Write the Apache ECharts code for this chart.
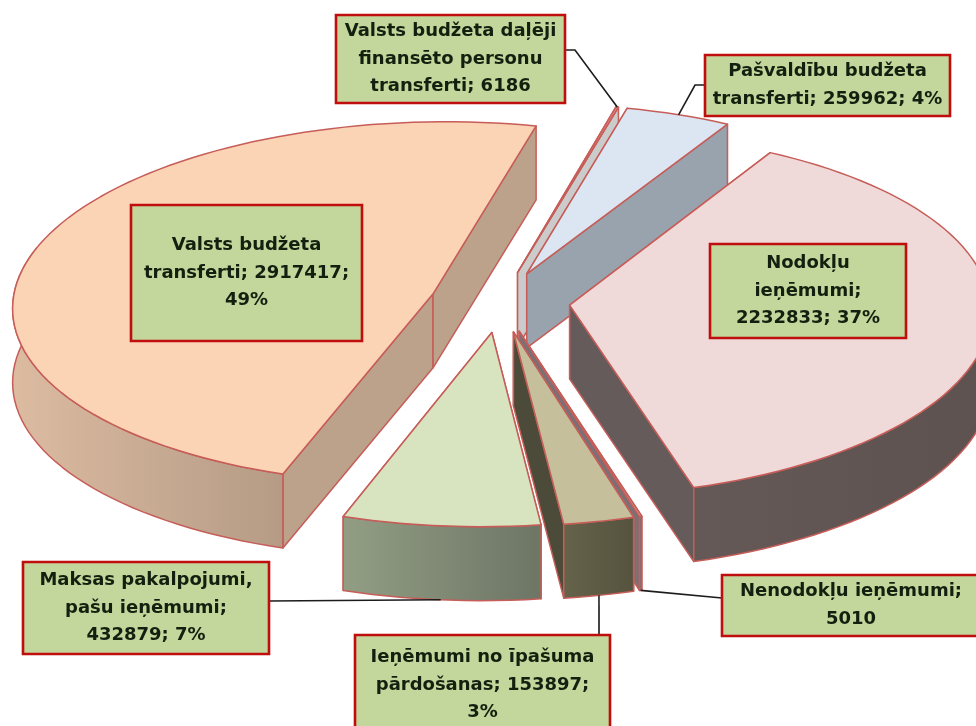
<!DOCTYPE html>
<html>
<head>
<meta charset="utf-8">
<style>
  html, body { margin: 0; padding: 0; background: #fff; }
  #chart { width: 976px; height: 726px; }
</style>
<script src="https://cdn.jsdelivr.net/npm/echarts@6/dist/echarts.min.js"></script>
</head>
<body>
<div id="chart"></div>
<script>
// clockwise from the first slice, as the spreadsheet had them
const categories = ['Nodokļu ieņēmumi', 'Nenodokļu ieņēmumi', 'Ieņēmumi no īpašuma pārdošanas', 'Maksas pakalpojumi, pašu ieņēmumi', 'Valsts budžeta transferti', 'Valsts budžeta daļēji finansēto personu transferti', 'Pašvaldību budžeta transferti'];
const values = [2232833, 5010, 153897, 432879, 2917417, 6186, 259962];
const labelTexts = [
  'Nodokļu\nieņēmumi;\n2232833; 37%',
  'Nenodokļu ieņēmumi;\n5010',
  'Ieņēmumi no īpašuma\npārdošanas; 153897;\n3%',
  'Maksas pakalpojumi,\npašu ieņēmumi;\n432879; 7%',
  'Valsts budžeta\ntransferti; 2917417;\n49%',
  'Valsts budžeta daļēji\nfinansēto personu\ntransferti; 6186',
  'Pašvaldību budžeta\ntransferti; 259962; 4%'
];

// colours per slice: top face, cut walls, outer wall left -> right
const topColors = ['#F0DAD9', '#E6B9B8', '#C6BF9B', '#D8E3BF', '#FBD3B5', '#E08A85', '#DCE6F2'];
const cutColors = ['#665B5B', '#7C7074', '#4C4B39', '#55563F', '#BCA28B', '#CBCBCB', '#98A3AE'];
const outerColors = [['#655958', '#5E5250'], ['#7C7074', '#7C7074'], ['#66634B', '#55523E'], ['#929E84', '#6D7565'], ['#DCBBA1', '#B59B85'], ['#CBCBCB', '#CBCBCB'], ['#98A3AE', '#98A3AE']];
const edgeColor = '#C65D58';

// label boxes [x, y, w, h]
const labelBoxes = [
  [710, 244, 196, 94],
  [722, 575, 258, 61],
  [355, 635, 255, 100],
  [23, 562, 246, 92],
  [131, 205, 231, 136],
  [336, 15, 229, 88],
  [705, 55, 245, 61]
];
// leader start on the box and elbow; null = no leader line
const leaders = [
  null,
  [[722, 598]],
  [[599, 635]],
  [[269, 601]],
  null,
  [[565, 50], [575, 50]],
  [[705, 85], [695, 85]]
];

// pie projection
const startAngle = 29, explode = 0.167, depth = 74;
const cx = 500, cy = 302, rx = 420, ry = 182, persp = 0.05, pan = 10;

const total = values.reduce((a, b) => a + b, 0);
let acc = startAngle;
const slices = values.map(function (v) {
  const from = acc;
  acc += 360 * v / total;
  const mid = (from + acc) / 2 * Math.PI / 180;
  return { from: from, to: acc, ox: explode * Math.sin(mid), oy: -explode * Math.cos(mid) };
});

function project(s, r, deg, z) {
  const a = deg * Math.PI / 180;
  const X = s.ox + r * Math.sin(a);
  const Y = s.oy - r * Math.cos(a);
  const k = 1 + persp * Y;
  return [cx - pan * Y + rx * X * k, cy + ry * Y * k + z];
}

function rimPoints(s, from, to, z) {
  const n = Math.max(1, Math.ceil((to - from) / 2));
  const pts = [];
  for (let i = 0; i <= n; i++) pts.push(project(s, 1, from + (to - from) * i / n, z));
  return pts;
}

function poly(points, fill) {
  return {
    type: 'polygon',
    shape: { points: points },
    style: { fill: fill, stroke: edgeColor, lineWidth: 1.5, lineJoin: 'round' }
  };
}

function renderSlice(params) {
  const i = drawOrder[params.dataIndex];
  const s = slices[i];
  const apex = project(s, 0, 0, 0);
  const apexLow = project(s, 0, 0, depth);
  const children = [];

  // cut walls
  [s.from, s.to].forEach(function (deg) {
    children.push(poly([apex, project(s, 1, deg, 0), project(s, 1, deg, depth), apexLow], cutColors[i]));
  });

  // outer wall, the part of the rim that faces us (a bit past the side so the silhouette closes)
  const a = Math.max(s.from, 90), b = Math.min(s.to, 285);
  if (b > a) {
    const pts = rimPoints(s, a, b, 0).concat(rimPoints(s, a, b, depth).reverse());
    children.push(poly(pts, {
      type: 'linear', x: 0, y: 0, x2: 1, y2: 0,
      colorStops: [{ offset: 0, color: outerColors[i][0] }, { offset: 1, color: outerColors[i][1] }]
    }));
  }

  // top face
  children.push(poly([apex].concat(rimPoints(s, s.from, s.to, 0)), topColors[i]));
  return { type: 'group', children: children };
}

function renderLabel(params) {
  const i = params.dataIndex;
  const s = slices[i];
  const box = labelBoxes[i];
  const children = [];
  if (leaders[i]) {
    const mid = (s.from + s.to) / 2;
    // back slices are hooked on the top rim, front ones on the bottom of the wall
    const end = project(s, 1, mid, Math.cos(mid * Math.PI / 180) > 0 ? 0 : depth);
    children.push({
      type: 'polyline',
      shape: { points: leaders[i].concat([end]) },
      style: { fill: null, stroke: '#1C1C1C', lineWidth: 1.6 }
    });
  }
  children.push({
    type: 'rect',
    shape: { x: box[0], y: box[1], width: box[2], height: box[3] },
    style: { fill: '#C3D69B', stroke: '#C00D0D', lineWidth: 2.6 }
  });
  children.push({
    type: 'text',
    style: {
      x: box[0] + box[2] / 2,
      y: box[1] + box[3] / 2,
      text: labelTexts[i],
      align: 'center',
      verticalAlign: 'middle',
      lineHeight: 27.5,
      font: 'bold 18px "DejaVu Sans"',
      fill: '#14200F'
    }
  });
  return { type: 'group', children: children };
}

// far slices first; among the front ones the rightmost goes first
const drawOrder = values.map((v, i) => i).sort(function (a, b) {
  return project(slices[a], 0, 0, 0)[1] - project(slices[b], 0, 0, 0)[1] || b - a;
});

const myChart = echarts.init(document.getElementById('chart'), null, { renderer: 'canvas' });
myChart.setOption({
  animation: false,
  backgroundColor: '#fff',
  series: [
    {
      type: 'custom',
      coordinateSystem: 'none',
      renderItem: renderSlice,
      data: drawOrder.map(i => ({ name: categories[i], value: values[i] })),
      silent: true
    },
    {
      type: 'custom',
      coordinateSystem: 'none',
      renderItem: renderLabel,
      data: categories.map((c, i) => ({ name: c, value: values[i] })),
      z: 5,
      silent: true
    }
  ]
});
</script>
</body>
</html>
